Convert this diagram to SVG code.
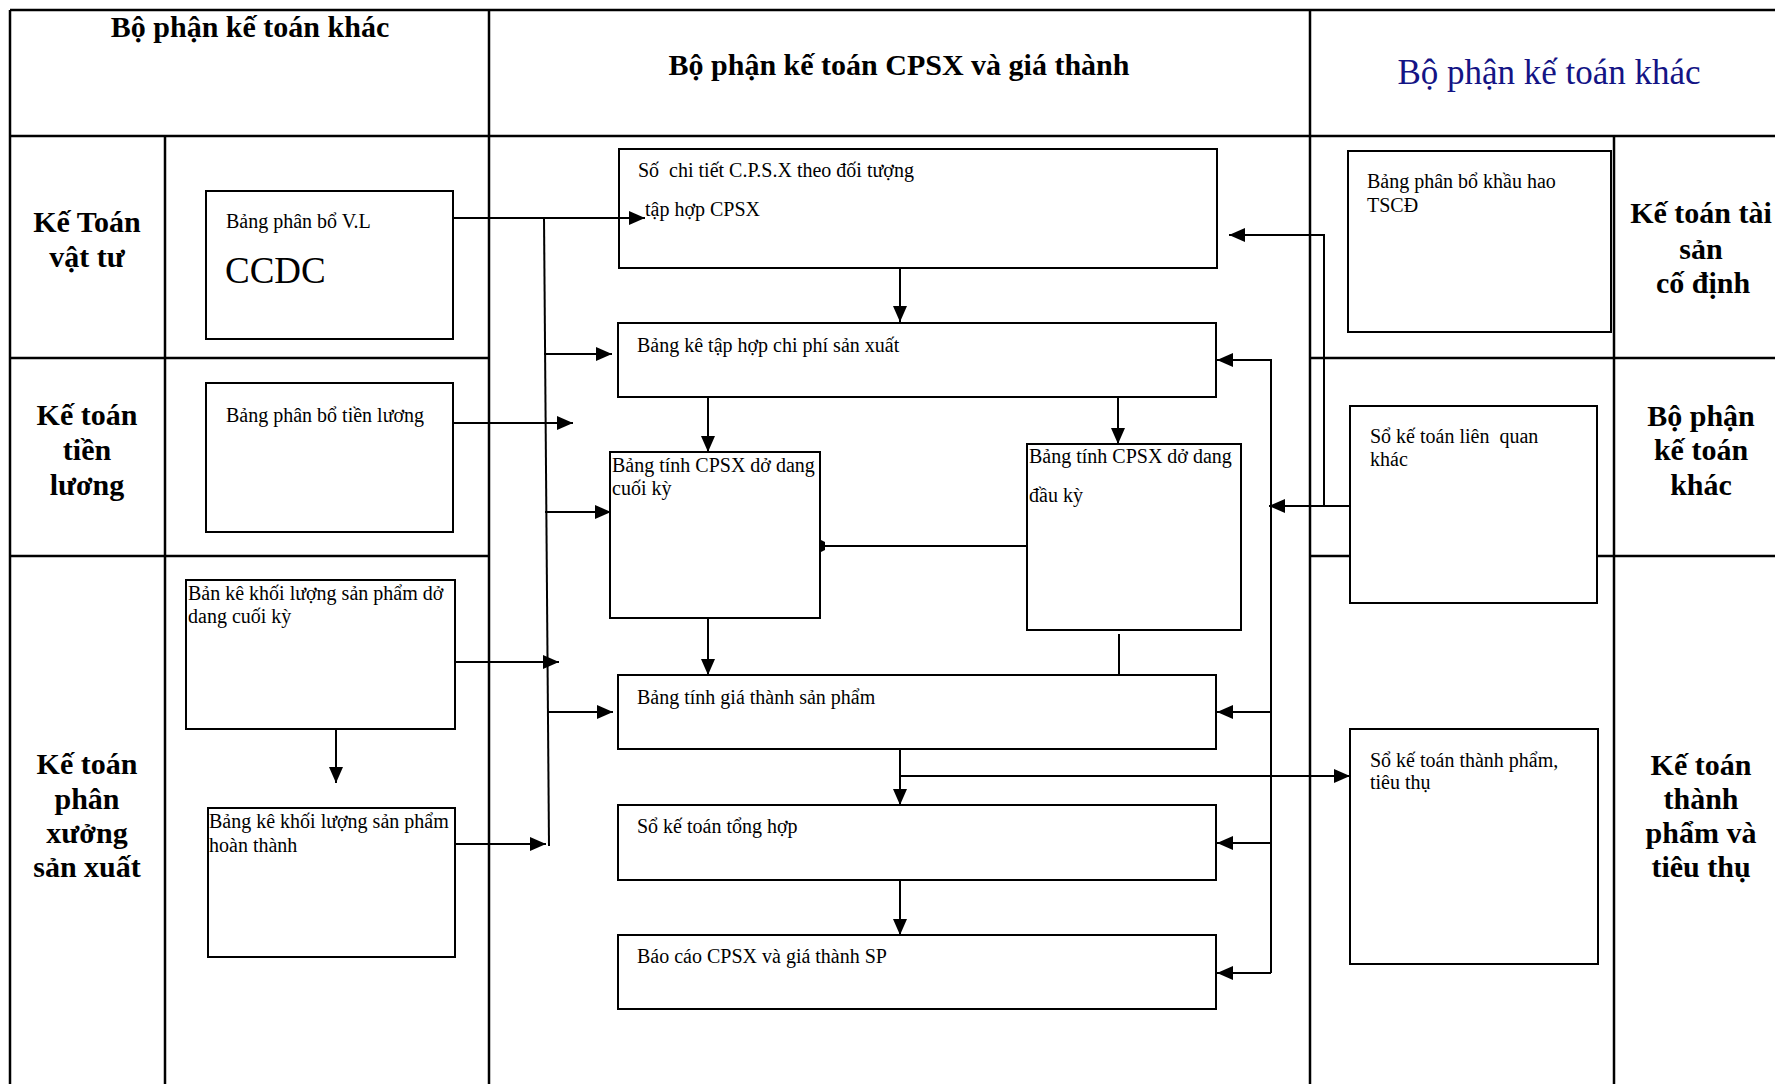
<svg xmlns="http://www.w3.org/2000/svg" width="1775" height="1084" viewBox="0 0 1775 1084">
  <style>
    .grid { stroke: #000; stroke-width: 2.5; fill: none; }
    .box { fill: #fff; stroke: #000; stroke-width: 2; }
    .con { stroke: #000; stroke-width: 2; fill: none; }
    .arr { marker-end: url(#ah); }
    .t { font-family: "Liberation Serif", "Times New Roman", serif; font-size: 20px; fill: #000; white-space: pre; }
    .big { font-size: 37px; }
    .hd { font-family: "Liberation Serif", "Times New Roman", serif; font-size: 30px; font-weight: bold; fill: #000; text-anchor: middle; }
    .hdb { font-family: "Liberation Serif", "Times New Roman", serif; font-size: 35px; fill: #141485; text-anchor: middle; }
    .lb { font-family: "Liberation Serif", "Times New Roman", serif; font-size: 30px; font-weight: bold; fill: #000; text-anchor: middle; }
  </style>
  <defs>
    <marker id="ah" viewBox="0 0 16 14" refX="16" refY="7" markerWidth="16" markerHeight="14" markerUnits="userSpaceOnUse" orient="auto">
      <path d="M0,0 L16,7 L0,14 z" fill="#000"/>
    </marker>
    <marker id="tick" viewBox="0 0 4 12" refX="4" refY="6" markerWidth="4" markerHeight="12" markerUnits="userSpaceOnUse" orient="auto">
      <path d="M0,2 L4,0 L4,12 L0,10 z" fill="#000"/>
    </marker>
  </defs>
  <rect width="1775" height="1084" fill="#fff"/>

  <!-- table frame -->
  <g id="frame">
    <path class="grid" d="M10,10 H1775 M10,136 H1775 M10,10 V1084 M489,10 V1084 M1310,10 V1084 M165,136 V1084 M1614,136 V1084 M10,358 H489 M10,556 H489 M1310,358 H1775 M1310,556 H1775"/>
  </g>

  <!-- column and row headings -->
  <g id="headings">
    <text class="hd" x="250" y="37">Bộ phận kế toán khác</text>
    <text class="hd" x="899" y="75">Bộ phận kế toán CPSX và giá thành</text>
    <text class="hdb" x="1549" y="84">Bộ phận kế toán khác</text>
    <text class="lb" x="87" y="232">Kế Toán</text>
    <text class="lb" x="87" y="267">vật tư</text>
    <text class="lb" x="87" y="425">Kế toán</text>
    <text class="lb" x="87" y="460">tiền</text>
    <text class="lb" x="87" y="495">lương</text>
    <text class="lb" x="87" y="774">Kế toán</text>
    <text class="lb" x="87" y="809">phân</text>
    <text class="lb" x="87" y="843">xưởng</text>
    <text class="lb" x="87" y="877">sản xuất</text>
    <text class="lb" x="1701" y="223">Kế toán tài</text>
    <text class="lb" x="1701" y="259">sản</text>
    <text class="lb" x="1703" y="293">cố định</text>
    <text class="lb" x="1701" y="426">Bộ phận</text>
    <text class="lb" x="1701" y="460">kế toán</text>
    <text class="lb" x="1701" y="495">khác</text>
    <text class="lb" x="1701" y="775">Kế toán</text>
    <text class="lb" x="1701" y="809">thành</text>
    <text class="lb" x="1701" y="843">phẩm và</text>
    <text class="lb" x="1701" y="877">tiêu thụ</text>
  </g>

  <!-- source documents -->
  <g id="bang-phan-bo-vl">
    <rect class="box" x="206" y="191" width="247" height="148"/>
    <text class="t" x="226" y="228">Bảng phân bổ V.L</text>
    <text class="t big" x="225" y="283">CCDC</text>
  </g>
  <g id="bang-phan-bo-tien-luong">
    <rect class="box" x="206" y="383" width="247" height="149"/>
    <text class="t" x="226" y="422">Bảng phân bổ tiền lương</text>
  </g>
  <g id="ban-ke-do-dang">
    <rect class="box" x="186" y="580" width="269" height="149"/>
    <text class="t" x="188" y="600">Bản kê khối lượng sản phẩm dở</text>
    <text class="t" x="188" y="623">dang cuối kỳ</text>
  </g>
  <g id="bang-ke-hoan-thanh">
    <rect class="box" x="208" y="808" width="247" height="149"/>
    <text class="t" x="209" y="828">Bảng kê khối lượng sản phẩm</text>
    <text class="t" x="209" y="852">hoàn thành</text>
  </g>

  <!-- cost accounting chain -->
  <g id="so-chi-tiet">
    <rect class="box" x="619" y="149" width="598" height="119"/>
    <text class="t" x="638" y="177">Số  chi tiết C.P.S.X theo đối tượng</text>
    <text class="t" x="645" y="216">tập hợp CPSX</text>
  </g>
  <g id="bang-ke-chi-phi">
    <rect class="box" x="618" y="323" width="598" height="74"/>
    <text class="t" x="637" y="352">Bảng kê tập hợp chi phí sản xuất</text>
  </g>
  <g id="cpsx-cuoi-ky">
    <rect class="box" x="610" y="452" width="210" height="166"/>
    <text class="t" x="612" y="472">Bảng tính CPSX dở dang</text>
    <text class="t" x="612" y="495">cuối kỳ</text>
  </g>
  <g id="cpsx-dau-ky">
    <rect class="box" x="1027" y="444" width="214" height="186"/>
    <text class="t" x="1029" y="463">Bảng tính CPSX dở dang</text>
    <text class="t" x="1029" y="502">đầu kỳ</text>
  </g>
  <g id="bang-tinh-gia-thanh">
    <rect class="box" x="618" y="675" width="598" height="74"/>
    <text class="t" x="637" y="704">Bảng tính giá thành sản phẩm</text>
  </g>
  <g id="so-tong-hop">
    <rect class="box" x="618" y="805" width="598" height="75"/>
    <text class="t" x="637" y="833">Sổ kế toán tổng hợp</text>
  </g>
  <g id="bao-cao">
    <rect class="box" x="618" y="935" width="598" height="74"/>
    <text class="t" x="637" y="963">Báo cáo CPSX và giá thành SP</text>
  </g>

  <!-- other ledgers -->
  <g id="khau-hao-tscd">
    <rect class="box" x="1348" y="151" width="263" height="181"/>
    <text class="t" x="1367" y="188">Bảng phân bổ khầu hao</text>
    <text class="t" x="1367" y="212">TSCĐ</text>
  </g>
  <g id="so-lien-quan">
    <rect class="box" x="1350" y="406" width="247" height="197"/>
    <text class="t" x="1370" y="443">Sổ kế toán liên  quan</text>
    <text class="t" x="1370" y="466">khác</text>
  </g>
  <g id="so-thanh-pham">
    <rect class="box" x="1350" y="729" width="248" height="235"/>
    <text class="t" x="1370" y="767">Sổ kế toán thành phẩm,</text>
    <text class="t" x="1370" y="789">tiêu thụ</text>
  </g>

  <!-- connectors -->
  <g id="connectors">
    <path class="con" d="M544,217 L549,846"/>
    <path class="con arr" d="M453,218 H645"/>
    <path class="con arr" d="M544,354 H612"/>
    <path class="con arr" d="M453,423 H573"/>
    <path class="con arr" d="M545,512 H611"/>
    <path class="con arr" d="M455,662 H559"/>
    <path class="con arr" d="M547,712 H613"/>
    <path class="con arr" d="M455,844 H546"/>
    <path class="con arr" d="M336,730 V783"/>
    <path class="con arr" d="M900,269 V322"/>
    <path class="con arr" d="M708,398 V452"/>
    <path class="con arr" d="M1118,398 V444"/>
    <path class="con" d="M1026,546 H821" marker-end="url(#tick)"/>
    <path class="con arr" d="M708,619 V675"/>
    <path class="con" d="M1119,634 V674"/>
    <path class="con arr" d="M900,750 V805"/>
    <path class="con arr" d="M900,776 H1350"/>
    <path class="con arr" d="M900,881 V935"/>
    <path class="con" d="M1271,359 V973"/>
    <path class="con arr" d="M1271,360 H1217"/>
    <path class="con arr" d="M1271,712 H1217"/>
    <path class="con arr" d="M1271,843 H1217"/>
    <path class="con arr" d="M1271,973 H1217"/>
    <path class="con arr" d="M1349,506 H1269"/>
    <path class="con arr" d="M1324,506 V235 H1229"/>
  </g>
</svg>
